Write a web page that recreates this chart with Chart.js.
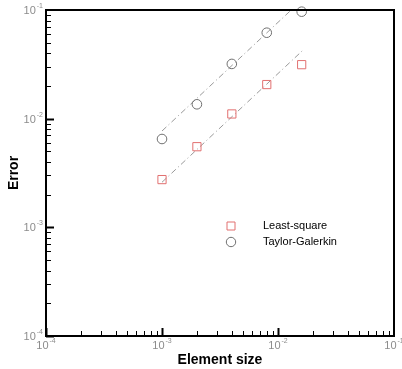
<!DOCTYPE html>
<html>
<head>
<meta charset="utf-8">
<script src="https://cdn.jsdelivr.net/npm/chart.js@4"></script>
<style>
  body { margin: 0; background: #fff; }
  canvas { display: block; }
</style>
</head>
<body>
<canvas id="errChart" width="402" height="369"></canvas>
<script>
// data
var elementSize = [1e-3, 2e-3, 4e-3, 8e-3, 1.6e-2];
var leastSquareErr = [0.00275, 0.00552, 0.01105, 0.0206, 0.0314];
var taylorGalerkinErr = [0.0065, 0.01356, 0.0319, 0.0618, 0.0965];

// slope lines
var lsFitX = [1e-3, 1.65e-2];
var lsFitY = [0.0026, 0.0429];
var tgFitX = [1e-3, 1.65e-2];
var tgFitY = [0.0077, 0.127];

var axisMin = 1e-4;
var axisMax = 1e-1;
var decades = [-4, -3, -2, -1];

function toPoints(xs, ys) {
    let pts = [];
    for (let i = 0; i < xs.length; i++) {
        pts.push({x: xs[i], y: ys[i]});
    }
    return pts;
}

var FONT = '"Liberation Sans", Arial, Helvetica, sans-serif';
var LS_COLOR = 'rgb(226,112,112)';
var TG_COLOR = '#707070';

// frame, inward ticks, 10^n labels and the legend box
var axesDecor = {
    id: 'axesDecor',
    afterDraw: function (chart) {
        let ctx = chart.ctx;
        let a = chart.chartArea;
        let xs = chart.scales.x;
        let ys = chart.scales.y;
        ctx.save();

        // ticks
        ctx.strokeStyle = '#000';
        ctx.lineWidth = 1;
        for (let e = -4; e < -1; e++) {
            for (let m = 1; m < 10; m++) {
                let v = m * Math.pow(10, e);
                let len = (m === 1) ? 8 : 5;
                let lw = (m === 1) ? 2 : 1;
                ctx.lineWidth = lw;
                let px = Math.round(xs.getPixelForValue(v)) + 0.5;
                ctx.beginPath();
                ctx.moveTo(px, a.bottom);
                ctx.lineTo(px, a.bottom - len);
                ctx.stroke();
                let py = Math.round(ys.getPixelForValue(v)) + 0.5;
                ctx.beginPath();
                ctx.moveTo(a.left, py);
                ctx.lineTo(a.left + len, py);
                ctx.stroke();
            }
        }

        // frame
        ctx.lineWidth = 2;
        ctx.strokeStyle = '#000';
        ctx.strokeRect(a.left, a.top, a.right - a.left, a.bottom - a.top);

        // tick labels
        ctx.fillStyle = '#8c8c8c';
        for (let i = 0; i < decades.length; i++) {
            let v = Math.pow(10, decades[i]);
            let sup = String(decades[i]);
            ctx.font = '11px ' + FONT;
            let wBase = ctx.measureText('10').width;
            ctx.font = '7px ' + FONT;
            let wSup = ctx.measureText(sup).width;
            let w = wBase + wSup + 1;

            // y axis
            let py = ys.getPixelForValue(v);
            let xr = a.left - 3;
            ctx.textBaseline = 'middle';
            ctx.textAlign = 'left';
            ctx.font = '11px ' + FONT;
            ctx.fillText('10', xr - w, py + 1);
            ctx.font = '7px ' + FONT;
            ctx.fillText(sup, xr - wSup, py - 4);

            // x axis
            let px = xs.getPixelForValue(v);
            let ty = a.bottom + 10;
            ctx.font = '11px ' + FONT;
            ctx.fillText('10', px - w / 2, ty);
            ctx.font = '7px ' + FONT;
            ctx.fillText(sup, px - w / 2 + wBase + 1, ty - 5);
        }

        // legend
        let items = [
            {label: chart.data.datasets[0].label, style: 'rect', color: LS_COLOR},
            {label: chart.data.datasets[1].label, style: 'circle', color: TG_COLOR}
        ];
        let lx = 231, ly = 226;
        ctx.lineWidth = 1;
        ctx.font = '11px ' + FONT;
        ctx.fillStyle = '#000';
        ctx.textAlign = 'left';
        ctx.textBaseline = 'middle';
        for (let i = 0; i < items.length; i++) {
            let y = ly + i * 16;
            ctx.strokeStyle = items[i].color;
            ctx.beginPath();
            if (items[i].style === 'rect') {
                ctx.rect(lx - 4, y - 4, 8, 8);
            } else {
                ctx.arc(lx, y, 4.7, 0, Math.PI * 2);
            }
            ctx.stroke();
            ctx.fillText(items[i].label, 263, y);
        }
        ctx.restore();
    }
};

var chart = new Chart(document.getElementById('errChart'), {
    type: 'scatter',
    data: {
        datasets: [{
            label: 'Least-square',
            data: toPoints(elementSize, leastSquareErr),
            pointStyle: 'rect',
            pointRadius: 5.8,
            pointBackgroundColor: 'rgba(0,0,0,0)',
            pointBorderColor: LS_COLOR,
            pointBorderWidth: 1,
            showLine: false,
            clip: false
        }, {
            label: 'Taylor-Galerkin',
            data: toPoints(elementSize, taylorGalerkinErr),
            pointStyle: 'circle',
            pointRadius: 4.8,
            pointBackgroundColor: 'rgba(0,0,0,0)',
            pointBorderColor: TG_COLOR,
            pointBorderWidth: 1,
            showLine: false,
            clip: false
        }, {
            label: 'fit LS',
            data: toPoints(lsFitX, lsFitY),
            showLine: true,
            pointRadius: 0,
            borderColor: '#999',
            borderWidth: 1,
            borderDash: [6, 3, 1, 3]
        }, {
            label: 'fit TG',
            data: toPoints(tgFitX, tgFitY),
            showLine: true,
            pointRadius: 0,
            borderColor: '#999',
            borderWidth: 1,
            borderDash: [6, 3, 1, 3]
        }]
    },
    options: {
        responsive: false,
        animation: false,
        layout: {
            padding: {top: 10, right: 8, left: 0, bottom: 0}
        },
        plugins: {
            legend: {display: false},
            tooltip: {enabled: false}
        },
        scales: {
            x: {
                type: 'logarithmic',
                min: axisMin,
                max: axisMax,
                grid: {display: false},
                border: {display: false},
                ticks: {display: false},
                title: {
                    display: true,
                    text: 'Element size',
                    color: '#000',
                    font: {family: FONT, size: 14, weight: 'bold'},
                    padding: {top: 3, bottom: 0}
                },
                afterFit: function (scale) {
                    scale.height = 33;
                }
            },
            y: {
                type: 'logarithmic',
                min: axisMin,
                max: axisMax,
                grid: {display: false},
                border: {display: false},
                ticks: {display: false},
                title: {
                    display: true,
                    text: 'Error',
                    color: '#000',
                    font: {family: FONT, size: 14, weight: 'bold'},
                    padding: {top: 6, bottom: 0}
                },
                afterFit: function (scale) {
                    scale.width = 46;
                }
            }
        }
    },
    plugins: [axesDecor]
});
</script>
</body>
</html>
